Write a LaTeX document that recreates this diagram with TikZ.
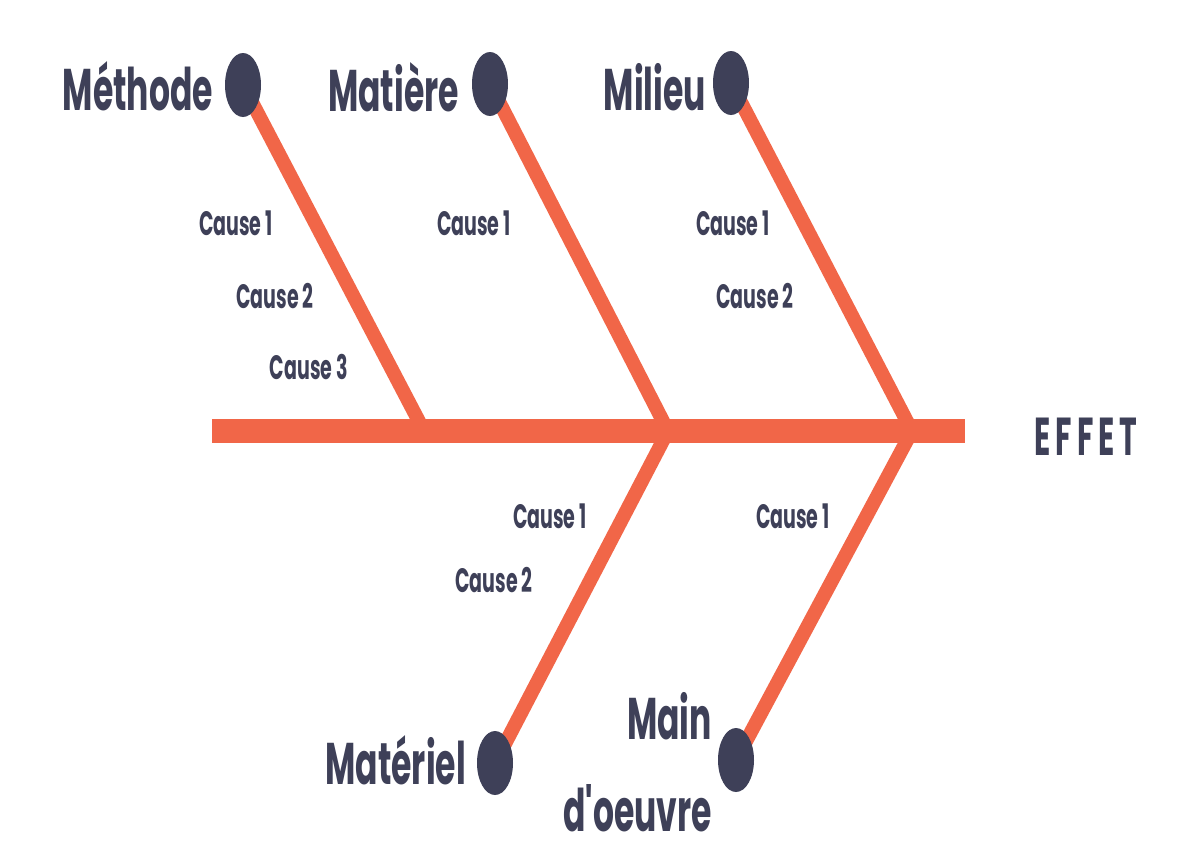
\documentclass[tikz,border=0pt]{standalone}
\usepackage{fontspec}
\setmainfont{Poppins}
\usetikzlibrary{shapes.geometric}
\definecolor{fish}{RGB}{241,102,72}
\definecolor{ink}{RGB}{62,64,88}
\newcommand{\tall}[1]{\scalebox{1}[1.78]{#1}}
\begin{document}
\begin{tikzpicture}[x=1pt,y=-1pt,
  branch/.style={line width=14pt, draw=fish},
  spine/.style={line width=24pt, draw=fish},
  dot/.style={ellipse, fill=ink, minimum width=36pt, minimum height=64pt, inner sep=0pt},
  cat/.style={text=ink, font=\fontsize{33}{38}\selectfont\bfseries, inner sep=0pt},
  cause/.style={text=ink, font=\fontsize{19}{22}\selectfont\bfseries, inner sep=0pt},
  effet/.style={text=ink, font=\fontsize{30}{34}\selectfont\bfseries, inner sep=0pt},
]
\fill[white] (0,0) rectangle (1203,865);
\useasboundingbox (0,0) rectangle (1203,865);
% spine
\coordinate (tail) at (212,431);
\coordinate (head) at (965,431);
\coordinate (j1) at (424,431);
\coordinate (j2) at (668,431);
\coordinate (j3) at (912,431);
% dot centres
\coordinate (pMe) at (243,85);
\coordinate (pMa) at (490,84);
\coordinate (pMi) at (731,83);
\coordinate (pMt) at (495,763);
\coordinate (pMo) at (736,760);
\draw[spine] (tail) -- (head);
\draw[branch] (pMe) -- (j1);
\draw[branch] (pMa) -- (j2);
\draw[branch] (pMi) -- (j3);
\draw[branch] (j2) -- (pMt);
\draw[branch] (j3) -- (pMo);
\node[dot] (dMe) at (pMe) {};
\node[dot] (dMa) at (pMa) {};
\node[dot] (dMi) at (pMi) {};
\node[dot] (dMt) at (pMt) {};
\node[dot] (dMo) at (pMo) {};
% category labels
\node[cat, anchor=east] (lMe) at (213,86) {\tall{Méthode}};
\node[cat, anchor=east] (lMa) at (459,87) {\tall{Matière}};
\node[cat, anchor=east] (lMi) at (706,87) {\tall{Milieu}};
\node[cat, anchor=east] (lMt) at (466,760) {\tall{Matériel}};
\node[cat, anchor=east] (lMo1) at (712,716) {\tall{Main}};
\node[cat, anchor=east] (lMo2) at (712,808) {\tall{d\textquotesingle oeuvre}};
\node[effet] (effet) at (1086,437) {\tall{E\,F\,F\,E\,T}};
% causes
\node[cause] (c11) at (236,223) {\tall{Cause 1}};
\node[cause] (c12) at (275,296) {\tall{Cause 2}};
\node[cause] (c13) at (309,367) {\tall{Cause 3}};
\node[cause] (c21) at (474,223) {\tall{Cause 1}};
\node[cause] (c31) at (733,223) {\tall{Cause 1}};
\node[cause] (c32) at (755,296) {\tall{Cause 2}};
\node[cause] (c41) at (550,516) {\tall{Cause 1}};
\node[cause] (c42) at (494,580) {\tall{Cause 2}};
\node[cause] (c51) at (793,516) {\tall{Cause 1}};
\end{tikzpicture}
\end{document}
